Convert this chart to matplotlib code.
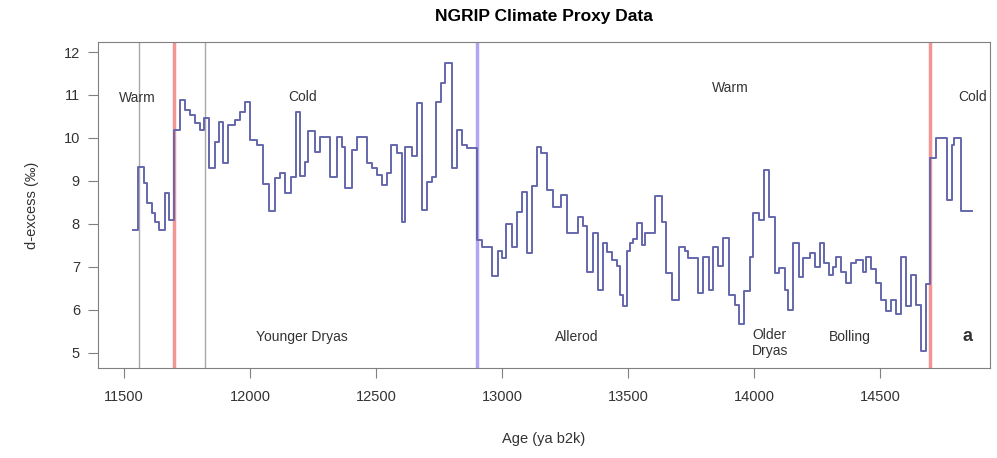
import matplotlib
matplotlib.use("Agg")
import matplotlib.pyplot as plt

plt.rcParams["font.family"] = ["Liberation Sans", "DejaVu Sans"]

# step start ages (ya b2k) and d-excess values
ages = [11536, 11556, 11579, 11592, 11610, 11623, 11640, 11663, 11680, 11700,
        11722, 11742, 11762, 11782, 11802, 11817, 11838, 11861, 11878, 11894,
        11914, 11940, 11960, 11980, 12000, 12027, 12050, 12077, 12099, 12119,
        12139, 12162, 12181, 12198, 12218, 12230, 12258, 12278, 12317, 12344,
        12364, 12377, 12404, 12423, 12463, 12483, 12503, 12523, 12542, 12559,
        12582, 12602, 12615, 12642, 12661, 12681, 12701, 12721, 12738, 12757,
        12774, 12800, 12820, 12840, 12860, 12900, 12919, 12959, 12985, 12999,
        13018, 13038, 13058, 13081, 13101, 13121, 13138, 13157, 13180, 13201,
        13233, 13257, 13300, 13320, 13338, 13362, 13382, 13402, 13415, 13435,
        13455, 13468, 13481, 13495, 13508, 13521, 13535, 13554, 13567, 13607,
        13634, 13653, 13673, 13703, 13726, 13738, 13778, 13797, 13821, 13837,
        13856, 13876, 13900, 13924, 13940, 13959, 13983, 13995, 14019, 14039,
        14059, 14083, 14099, 14122, 14134, 14154, 14178, 14194, 14222, 14241,
        14261, 14277, 14297, 14313, 14325, 14345, 14365, 14385, 14405, 14433,
        14444, 14464, 14484, 14504, 14524, 14543, 14563, 14583, 14603, 14623,
        14643, 14663, 14682, 14700, 14722, 14768, 14788, 14795, 14821, 14864]
dexcess = [7.86, 9.33, 8.95, 8.48, 8.25, 8.05, 7.86, 8.71, 8.09, 10.19,
           10.88, 10.65, 10.53, 10.34, 10.19, 10.46, 9.30, 9.91, 10.38, 9.41,
           10.30, 10.42, 10.61, 10.84, 9.95, 9.84, 8.93, 8.29, 9.06, 9.19,
           8.71, 9.10, 10.61, 9.12, 9.45, 10.15, 9.68, 10.03, 9.10, 10.03,
           9.80, 8.83, 9.72, 10.03, 9.41, 9.30, 9.14, 8.91, 9.19, 9.84,
           9.64, 8.05, 9.80, 9.57, 10.81, 8.33, 8.98, 9.10, 10.84, 11.27,
           11.74, 9.30, 10.19, 9.84, 9.76, 7.63, 7.47, 6.79, 7.36, 7.20,
           8.00, 7.45, 8.27, 8.75, 7.32, 8.89, 9.78, 9.64, 8.79, 8.40,
           8.67, 7.78, 8.17, 7.94, 6.89, 7.78, 6.47, 7.55, 7.35, 7.15,
           7.01, 6.35, 6.08, 7.36, 7.55, 7.65, 8.02, 7.50, 7.79, 8.64,
           8.05, 6.85, 6.23, 7.47, 7.36, 7.20, 6.39, 7.23, 6.47, 7.47,
           7.01, 7.67, 6.35, 6.12, 5.67, 6.43, 7.24, 8.25, 8.10, 9.26,
           8.17, 6.85, 6.97, 6.47, 6.00, 7.55, 6.77, 7.20, 7.32, 7.00,
           7.55, 7.09, 6.81, 7.00, 7.24, 6.89, 6.62, 7.09, 7.15, 6.89,
           7.24, 6.95, 6.62, 6.23, 5.96, 6.23, 5.90, 7.24, 6.08, 6.81,
           6.12, 5.05, 6.60, 9.53, 9.99, 8.56, 9.84, 9.99, 8.29, 8.29]

gray_lines = [11560, 11820]
red_lines = [11700, 14700]
blue_lines = [12900]

labels = ["Warm", "Cold", "Warm", "Cold", "Younger Dryas", "Allerod",
          "Older\nDryas", "Bolling"]
label_x = [11552, 12210, 13905, 14869, 12206, 13298, 14063, 14381]
label_y = [10.93, 10.95, 11.16, 10.95, 5.37, 5.37, 5.22, 5.37]

fig = plt.figure(figsize=(9.97, 4.58), dpi=100)
ax = fig.add_axes([0.0983, 0.197, 0.8947, 0.711])

for x in gray_lines:
    ax.axvline(x, color="#a8a8a8", lw=1.0)
for x in red_lines:
    ax.axvline(x, color="#f08a8a", lw=2.5, alpha=0.9)
for x in blue_lines:
    ax.axvline(x, color="#a89cf0", lw=2.5, alpha=0.9)

ax.step(ages, dexcess, where="post", color="#6567ad", lw=1.4)

for t, x, y in zip(labels, label_x, label_y):
    ax.text(x, y, t, ha="center", va="center", fontsize=10, color="#333333")
ax.text(14849, 5.37, "a", ha="center", va="center", fontsize=13,
        fontweight="bold", color="#333333")

ax.set_xlim(11397, 14937)
ax.set_ylim(4.65, 12.23)
ax.set_xticks(range(11500, 14501, 500))
ax.set_yticks(range(5, 13))
for s in ax.spines.values():
    s.set_color("#808080")
ax.tick_params(direction="out", length=7, color="#808080", labelsize=10.5,
               labelcolor="#333333")
ax.tick_params(axis="x", pad=9)
ax.tick_params(axis="y", pad=6)

ax.set_title("NGRIP Climate Proxy Data", fontsize=12.5, fontweight="bold", pad=15)
ax.set_xlabel("Age (ya b2k)", fontsize=10.5, color="#333333", labelpad=20)
ax.set_ylabel("d-excess (‰)", fontsize=10.5, color="#333333", labelpad=18)

plt.savefig("out.png", dpi=100)
